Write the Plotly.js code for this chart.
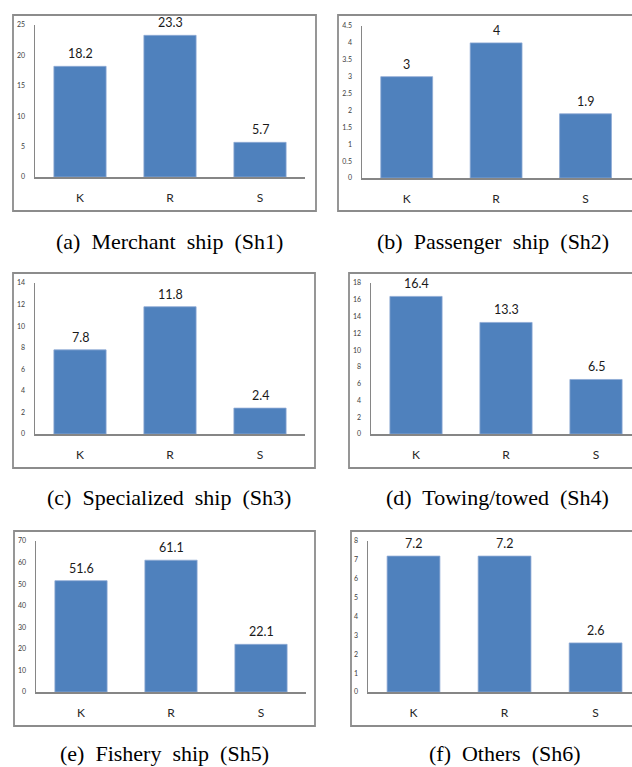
<!DOCTYPE html>
<html>
<head>
<meta charset="utf-8">
<script src="https://cdn.plot.ly/plotly-3.0.1.min.js"></script>
<style>
  html, body { margin: 0; padding: 0; background: #ffffff; }
  #chart { width: 632px; height: 767px; }
</style>
</head>
<body>
<div id="chart"></div>
<script>
// Ship categories compared across three regions
const categories = ['K', 'R', 'S'];

// Values per ship type
const sh1Merchant    = [18.2, 23.3, 5.7];
const sh2Passenger   = [3, 4, 1.9];
const sh3Specialized = [7.8, 11.8, 2.4];
const sh4Towing      = [16.4, 13.3, 6.5];
const sh5Fishery     = [51.6, 61.1, 22.1];
const sh6Others      = [7.2, 7.2, 2.6];

// Panel captions
const captions = [
  '(a)\u00A0 Merchant\u00A0 ship\u00A0 (Sh1)',
  '(b)\u00A0 Passenger\u00A0 ship\u00A0 (Sh2)',
  '(c)\u00A0 Specialized\u00A0 ship\u00A0 (Sh3)',
  '(d)\u00A0 Towing/towed\u00A0 (Sh4)',
  '(e)\u00A0 Fishery\u00A0 ship\u00A0 (Sh5)',
  '(f)\u00A0 Others\u00A0 (Sh6)'
];

// Y-axis scale of each panel
const yTop  = [25, 4.5, 14, 18, 70, 8];
const yStep = [5, 0.5, 2, 2, 10, 1];

const seriesList = [sh1Merchant, sh2Passenger, sh3Specialized, sh4Towing, sh5Fishery, sh6Others];

// Page geometry (pixels): frame box, plot area, caption centre
const W = 632, H = 767;
const panels = [
  { box: [13, 15, 316, 211],  plot: [35, 25, 305, 177],  xr: [-0.5, 2.5],  cap: [169, 241] },
  { box: [338, 15, 640, 211], plot: [362, 26, 632, 178], xr: [-0.5, 2.52], cap: [493, 241] },
  { box: [13, 273, 315, 468], plot: [35, 283, 305, 434], xr: [-0.5, 2.5],  cap: [169, 497] },
  { box: [349, 273, 640, 468],plot: [371, 283, 632, 434],xr: [-0.5, 2.4],  cap: [497, 497] },
  { box: [14, 531, 315, 726], plot: [36, 541, 306, 692], xr: [-0.5, 2.5],  cap: [164, 753] },
  { box: [351, 531, 640, 726],plot: [368, 541, 632, 692],xr: [-0.5, 2.4],  cap: [505, 753] }
];

const px = x => x / W;
const py = y => 1 - y / H;

const BAR = '#4f81bd';
const AXIS = '#868686';
const SANS = 'Lato, "Open Sans", sans-serif';

const traces = [];
const layout = {
  width: W, height: H,
  margin: { l: 0, r: 0, t: 0, b: 0 },
  paper_bgcolor: '#ffffff',
  plot_bgcolor: 'rgba(0,0,0,0)',
  showlegend: false,
  bargap: 0.42,
  shapes: [],
  annotations: []
};

panels.forEach((p, i) => {
  const n = i + 1;
  const xa = n === 1 ? 'x' : 'x' + n;
  const ya = n === 1 ? 'y' : 'y' + n;
  const vals = seriesList[i];

  traces.push({
    type: 'bar',
    x: categories,
    y: vals,
    xaxis: xa, yaxis: ya,
    marker: { color: BAR, line: { color: '#8eaad4', width: 0.8 } },
    hoverinfo: 'skip'
  });

  layout['xaxis' + (n === 1 ? '' : n)] = {
    domain: [px(p.plot[0]), Math.min(1, px(p.plot[2]))],
    anchor: ya,
    range: p.xr,
    type: 'category',
    showline: true, linecolor: AXIS, linewidth: 1.5,
    showgrid: false, zeroline: false, ticks: '',
    ticklabelstandoff: 9,
    tickfont: { family: SANS, size: 12, color: '#262626' },
    fixedrange: true
  };
  layout['yaxis' + (n === 1 ? '' : n)] = {
    domain: [py(p.plot[3]), py(p.plot[1])],
    anchor: xa,
    range: [0, yTop[i]],
    dtick: yStep[i], tick0: 0,
    showline: true, linecolor: AXIS, linewidth: 1.5,
    showgrid: false, zeroline: false, ticks: '',
    ticklabelstandoff: 7,
    tickfont: { family: SANS, size: 7, color: '#404040' },
    fixedrange: true
  };

  // value labels above each bar
  categories.forEach((c, k) => {
    layout.annotations.push({
      xref: xa, yref: ya, x: c, y: vals[k],
      text: String(vals[k]),
      showarrow: false, yanchor: 'bottom', yshift: 3,
      font: { family: SANS, size: 12.5, color: '#1a1a1a' }
    });
  });

  // frame around the panel
  layout.shapes.push({
    type: 'rect', xref: 'paper', yref: 'paper',
    x0: px(p.box[0]), x1: px(p.box[2]), y0: py(p.box[3]), y1: py(p.box[1]),
    line: { color: '#8c8c8c', width: 1.8 }, fillcolor: 'rgba(0,0,0,0)'
  });

  // caption under the panel
  layout.annotations.push({
    xref: 'paper', yref: 'paper', x: px(p.cap[0]), y: py(p.cap[1]),
    xanchor: 'center', yanchor: 'middle', showarrow: false,
    text: captions[i],
    font: { family: '"Liberation Serif", "Times New Roman", serif', size: 22, color: '#000000' }
  });
});

Plotly.newPlot('chart', traces, layout, { staticPlot: true, displayModeBar: false });
</script>
</body>
</html>
